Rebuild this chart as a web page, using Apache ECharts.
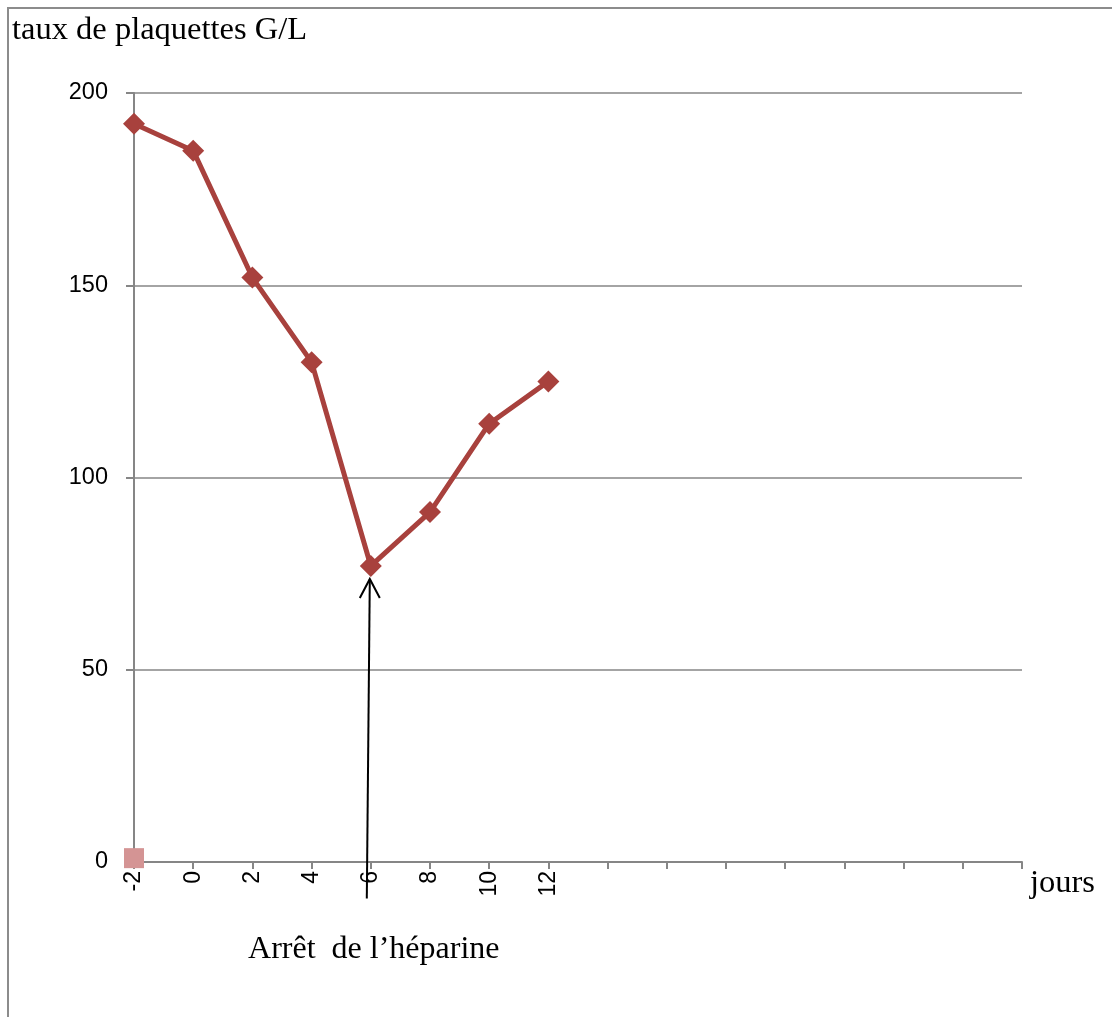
<!DOCTYPE html>
<html>
<head>
<meta charset="utf-8">
<script src="https://cdn.jsdelivr.net/npm/echarts@6/dist/echarts.min.js"></script>
<style>
  html, body { margin: 0; padding: 0; background: #fff; }
  #chart { width: 1112px; height: 1017px; }
</style>
</head>
<body>
<div id="chart"></div>
<script>
// Jours (axe horizontal) : 8 jours mesurés puis des graduations vides
const days = ['-2', '0', '2', '4', '6', '8', '10', '12', '', '', '', '', '', '', '', ''];
// Taux de plaquettes (G/L) par jour
const platelets = [192, 185, 152, 130, 77, 91, 114, 125];
// Point isolé au jour -2
const baseline = [1];
const yTicks = [0, 50, 100, 150, 200];
const stopDay = '6';
const stopValue = 77;

const serif = '"Liberation Serif", "Times New Roman", serif';
const sans = '"Liberation Sans", Arial, sans-serif';

const chart = echarts.init(document.getElementById('chart'));

chart.setOption({
  animation: false,
  backgroundColor: '#fff',
  grid: { left: 134, right: 90, top: 93, bottom: 155, containLabel: false },
  xAxis: {
    type: 'category',
    data: days,
    boundaryGap: false,
    axisLine: { lineStyle: { color: '#868686', width: 2 } },
    axisTick: { show: true, length: 7, interval: 0, lineStyle: { color: '#868686', width: 2 } },
    axisLabel: { interval: 0, rotate: 90, margin: 9, fontFamily: sans, fontSize: 23, color: '#000' },
    splitLine: { show: false }
  },
  yAxis: {
    type: 'value',
    min: yTicks[0],
    max: yTicks[yTicks.length - 1],
    interval: 50,
    axisLine: { show: true, lineStyle: { color: '#868686', width: 2 } },
    axisTick: { show: true, length: 8, lineStyle: { color: '#868686', width: 2 } },
    axisLabel: { margin: 26, fontFamily: sans, fontSize: 23.5, color: '#000' },
    splitLine: { show: true, lineStyle: { color: '#868686', width: 1.5 } }
  },
  series: [
    {
      name: 'plaquettes',
      type: 'line',
      data: platelets,
      symbol: 'diamond',
      symbolSize: 22,
      lineStyle: { color: '#A8413D', width: 5 },
      itemStyle: { color: '#A8413D' },
      z: 5
    },
    {
      name: 'référence',
      type: 'line',
      data: baseline,
      symbol: 'rect',
      symbolSize: 20,
      lineStyle: { width: 0 },
      itemStyle: { color: '#D49494' },
      z: 4
    }
  ]
});

// Annotations placées d'après les échelles du graphique
const tip = chart.convertToPixel({ gridIndex: 0 }, [stopDay, stopValue]);
const foot = chart.convertToPixel({ gridIndex: 0 }, [stopDay, -9.5]);
const axisEnd = chart.convertToPixel({ gridIndex: 0 }, [days[days.length - 1], 0]);
const tipX = tip[0] - 1;
const tipY = tip[1] + 13;
const footX = foot[0] - 4;

chart.setOption({
  graphic: [
    {
      type: 'rect',
      shape: { x: 8, y: 8, width: 1200, height: 1100 },
      style: { fill: 'none', stroke: '#8C8C8C', lineWidth: 2 },
      silent: true
    },
    {
      type: 'text',
      x: 12,
      y: 30,
      style: { text: 'taux de plaquettes G/L', font: '32.5px ' + serif, fill: '#000', textVerticalAlign: 'middle' }
    },
    {
      type: 'text',
      x: axisEnd[0] + 8,
      y: axisEnd[1] + 21,
      style: { text: 'jours', font: '32.5px ' + serif, fill: '#000', textVerticalAlign: 'middle' }
    },
    {
      type: 'line',
      shape: { x1: footX, y1: foot[1], x2: tipX, y2: tipY },
      style: { stroke: '#000', lineWidth: 2 },
      z: 10
    },
    {
      type: 'polyline',
      shape: { points: [[tipX - 10, tipY + 19], [tipX, tipY], [tipX + 10, tipY + 19]] },
      style: { stroke: '#000', lineWidth: 2, fill: 'none' },
      z: 10
    },
    {
      type: 'text',
      x: tip[0] + 3,
      y: 950,
      style: { text: 'Arrêt  de l\u2019héparine', font: '32px ' + serif, fill: '#000', textAlign: 'center', textVerticalAlign: 'middle' }
    }
  ]
});
</script>
</body>
</html>
